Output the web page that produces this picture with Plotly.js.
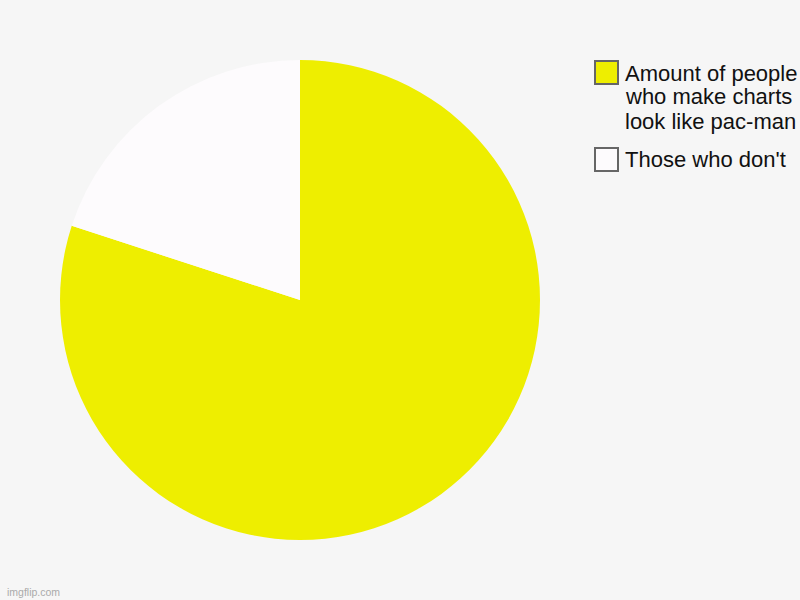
<!DOCTYPE html>
<html><head><meta charset="utf-8">
<script src="https://cdn.plot.ly/plotly-3.0.1.min.js"></script>
<style>html,body{margin:0;padding:0;background:#f6f6f6;}#c{width:800px;height:600px;}</style>
</head><body><div id="c"></div>
<script>
const labels = ["Amount of people<br>who make charts<br>look like pac-man", "Those who don't"];
const values = [80, 20];
const colors = ["#eeee00", "#fdfbfd"];
const legendY = [61, 148];
const legendTextY = [73, 160];

const W = 800, H = 600;
const shapes = [], annotations = [];
labels.forEach((l, i) => {
  shapes.push({type:'rect', xref:'paper', yref:'paper',
    x0:595/W, x1:618/W, y0:1-legendY[i]/H, y1:1-(legendY[i]+23)/H,
    fillcolor:colors[i], line:{color:'#666666', width:2}});
  l.split('<br>').forEach((line, j) => {
    annotations.push({xref:'paper', yref:'paper', x:623/W, y:1-(legendTextY[i]+24*j)/H,
      xanchor:'left', yanchor:'middle', align:'left', showarrow:false, text:line,
      font:{family:'Liberation Sans, Arial, sans-serif', size:22, color:'#111111'}});
  });
});
annotations.push({xref:'paper', yref:'paper', x:5/W, y:0, xanchor:'left', yanchor:'bottom',
  showarrow:false, text:'imgflip.com', font:{family:'Liberation Sans, Arial, sans-serif', size:10.5, color:'#aaaaaa'}});

Plotly.newPlot('c', [{
  type:'pie', labels:labels, values:values, sort:false, direction:'clockwise', rotation:0,
  marker:{colors:colors, line:{width:0}}, textinfo:'none', hoverinfo:'label+value',
  domain:{x:[60/W, 540/W], y:[60/H, 540/H]}
}], {
  width:W, height:H, margin:{l:0,r:0,t:0,b:0}, paper_bgcolor:'#f6f6f6', plot_bgcolor:'#f6f6f6',
  showlegend:false, shapes:shapes, annotations:annotations
}, {staticPlot:true});
</script></body></html>
